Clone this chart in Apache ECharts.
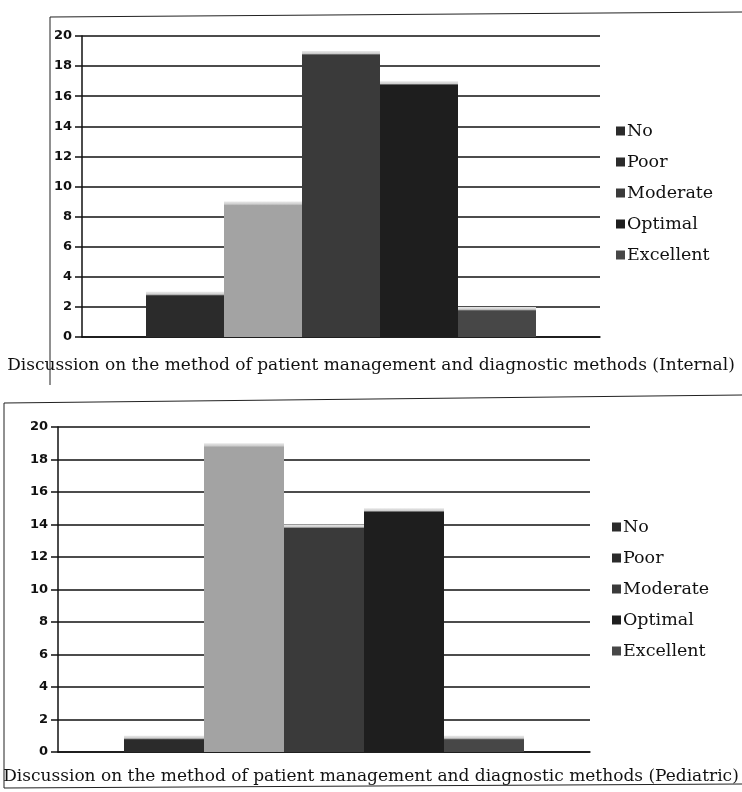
<!DOCTYPE html>
<html>
<head>
<meta charset="utf-8">
<style>
    html, body { margin: 0; padding: 0; background: #fff; }
    #main { width: 742px; height: 792px; }
</style>
<script src="https://cdn.jsdelivr.net/npm/echarts@6/dist/echarts.min.js"></script>
</head>
<body>
<div id="main"></div>
<script>
    // data
    var levels = ['No', 'Poor', 'Moderate', 'Optimal', 'Excellent'];
    var internalValues = [3, 9, 19, 17, 2];
    var pediatricValues = [1, 19, 14, 15, 1];
    var yTicks = [0, 2, 4, 6, 8, 10, 12, 14, 16, 18, 20];
    var titles = [
        'Discussion on the method of patient management and diagnostic methods (Internal)',
        'Discussion on the method of patient management and diagnostic methods (Pediatric)'
    ];

    // grey shades for the five bars
    var shades = ['#2b2b2b', '#a3a3a3', '#3a3a3a', '#1e1e1e', '#474747'];
    var plotHeights = [301, 325];
    var yMax = yTicks[yTicks.length - 1];

    // light bevel of ~4px on the top edge of each bar
    function barFill(c, v, g) {
        var px = v / yMax * plotHeights[g];
        var o = Math.min(0.4, 4 / px);
        return new echarts.graphic.LinearGradient(0, 0, 0, 1, [
            {offset: 0, color: '#e8e8e8'},
            {offset: o * 0.6, color: '#cfcfcf'},
            {offset: o, color: c},
            {offset: 1, color: c}
        ]);
    }

    var myChart = echarts.init(document.getElementById('main'));

    function yAxisOf(idx) {
        return {
            type: 'value',
            gridIndex: idx,
            min: yTicks[0],
            max: yMax,
            interval: 2,
            axisLine: {show: true, lineStyle: {color: '#111', width: 1.5}},
            axisTick: {show: true, length: 7, lineStyle: {color: '#111', width: 1.5}},
            splitLine: {lineStyle: {color: '#111', width: 1.5}},
            axisLabel: {
                color: '#111',
                fontFamily: 'DejaVu Sans',
                fontWeight: 'bold',
                fontSize: 13,
                margin: 10
            }
        };
    }
    function xAxisOf(idx) {
        return {
            type: 'category',
            gridIndex: idx,
            data: [''],
            axisLine: {lineStyle: {color: '#111', width: 1.5}},
            axisTick: {show: false},
            axisLabel: {show: false}
        };
    }

    var series = [];
    [internalValues, pediatricValues].forEach(function (vals, g) {
        levels.forEach(function (name, i) {
            series.push({
                name: name,
                type: 'bar',
                xAxisIndex: g,
                yAxisIndex: g,
                barWidth: g === 0 ? 78 : 80,
                barGap: '0%',
                data: [vals[i]],
                itemStyle: {color: barFill(shades[i], vals[i], g)}
            });
        });
    });

    var legendStyle = {
        orient: 'vertical',
        icon: 'rect',
        itemWidth: 9,
        itemHeight: 9,
        itemGap: 13,
        selectedMode: false,
        textStyle: {color: '#111', fontFamily: 'DejaVu Serif', fontSize: 17.5, padding: [0, 0, 0, -3]},
        data: levels.map(function (n, i) { return {name: n, itemStyle: {color: shades[i === 1 ? 0 : i]}}; })
    };

    var titleFont = {fontFamily: 'DejaVu Serif', fontWeight: 'normal', fontSize: 17, color: '#111'};

    var options = {
        backgroundColor: '#fff',
        animation: false,
        title: [
            {text: titles[0], left: 'center', top: 352, textStyle: titleFont},
            {text: titles[1], left: 'center', top: 763, textStyle: titleFont}
        ],
        legend: [
            Object.assign({left: 611, top: 117}, legendStyle),
            Object.assign({left: 607, top: 513}, legendStyle)
        ],
        grid: [
            {left: 82, right: 142, top: 36, bottom: 455},
            {left: 58, right: 152, top: 427, bottom: 40}
        ],
        xAxis: [xAxisOf(0), xAxisOf(1)],
        yAxis: [yAxisOf(0), yAxisOf(1)],
        series: series,
        graphic: [
            {type: 'polyline', silent: true, shape: {points: [[50, 385], [50, 17], [742, 12]]},
                style: {stroke: '#222', lineWidth: 1, fill: null}},
            {type: 'polyline', silent: true, shape: {points: [[742, 395], [4, 403], [4, 788], [742, 784]]},
                style: {stroke: '#222', lineWidth: 1, fill: null}}
        ]
    };
    myChart.setOption(options);
</script>
</body>
</html>
